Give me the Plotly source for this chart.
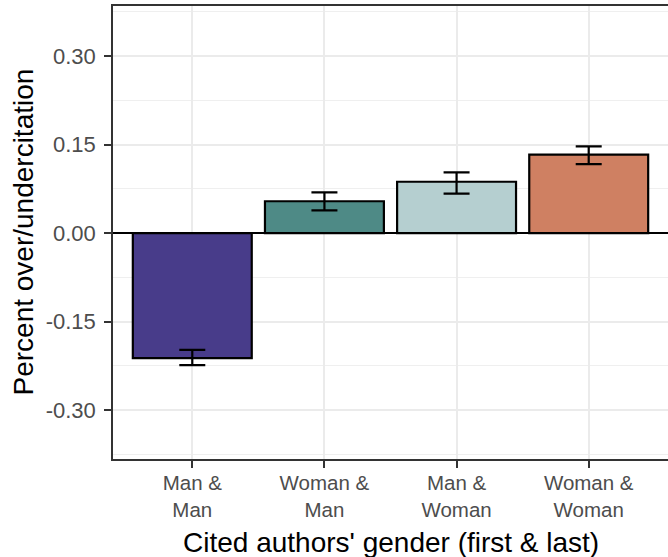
import plotly.graph_objects as go

categories = ["Man &<br>Man", "Woman &<br>Man", "Man &<br>Woman", "Woman &<br>Woman"]
values = [-0.212, 0.054, 0.087, 0.133]
err_upper = [0.014, 0.015, 0.016, 0.014]
err_lower = [0.012, 0.0155, 0.020, 0.016]
colors = ["#483C8A", "#4E8A86", "#B5CFD0", "#CF8062"]

fig = go.Figure()
fig.add_trace(go.Bar(
    x=categories, y=values, width=0.9,
    marker=dict(color=colors, line=dict(color="black", width=2.2)),
    error_y=dict(type="data", symmetric=False, array=err_upper, arrayminus=err_lower,
                 color="black", thickness=2.2, width=13),
    showlegend=False,
))
fig.add_hline(y=0, line=dict(color="black", width=2))

fig.update_layout(
    width=668, height=557,
    margin=dict(l=113, r=0, t=6, b=98),
    plot_bgcolor="white", paper_bgcolor="white",
    font=dict(family="Liberation Sans, Arial, sans-serif"),
    bargap=0.1,
)
fig.update_xaxes(
    range=[-0.6, 3.6],
    showgrid=True, gridcolor="#EBEBEB", gridwidth=1.5,
    showline=True, linecolor="#333333", linewidth=1.5, mirror=True,
    ticks="outside", ticklen=7, tickwidth=1.5, tickcolor="#333333",
    tickfont=dict(size=20.5, color="#4D4D4D"),
    ticklabelstandoff=-2,
    zeroline=False,
)
fig.update_yaxes(
    range=[-0.383, 0.385],
    tickvals=[-0.30, -0.15, 0.00, 0.15, 0.30],
    ticktext=["-0.30", "-0.15", "0.00", "0.15", "0.30"],
    showgrid=True, gridcolor="#EBEBEB", gridwidth=1.5,
    minor=dict(tickvals=[-0.375, -0.225, -0.075, 0.075, 0.225, 0.375],
               showgrid=True, gridcolor="#EFEFEF", gridwidth=1),
    showline=True, linecolor="#333333", linewidth=1.5, mirror=False,
    ticks="outside", ticklen=7, tickwidth=1.5, tickcolor="#333333",
    tickfont=dict(size=22, color="#4D4D4D"),
    ticklabelstandoff=4,
    zeroline=False,
)
fig.add_annotation(
    text="Percent over/undercitation", textangle=-90,
    xref="paper", yref="paper", x=0, y=0.5, xanchor="center", yanchor="middle",
    xshift=-90, showarrow=False, font=dict(size=28, color="black"),
)
fig.add_annotation(
    text="Cited authors' gender (first &amp; last)",
    xref="paper", yref="paper", x=0.5, y=0, xanchor="center", yanchor="middle",
    yshift=-83, showarrow=False, font=dict(size=28, color="black"),
)
fig.write_html("out.html")
